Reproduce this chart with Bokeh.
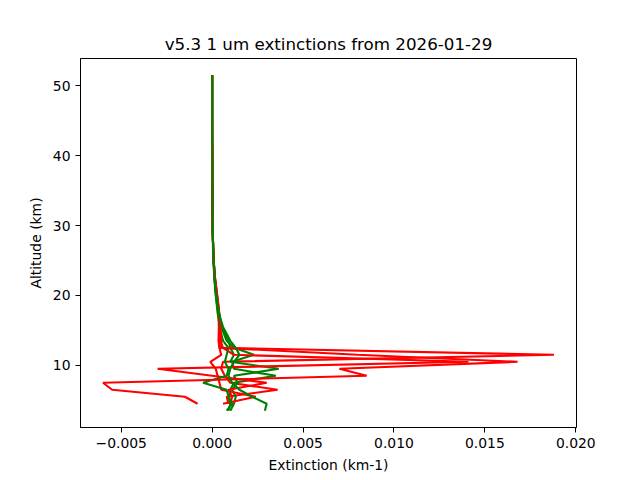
from bokeh.plotting import figure
from bokeh.models import FixedTicker, CustomJSTickFormatter, Range1d, ColumnDataSource
from bokeh.embed import file_html
from bokeh.resources import INLINE

# Altitude grid (km)
alt_green = [3.5, 4.5, 5.5, 6.5, 7.5, 8.5, 9.5, 10.5, 11.5, 12.5,
             13.5, 14.5, 15.5, 16.5, 17.5, 18.5, 19.5, 20.5, 21.5, 22.5,
             23.5, 24.5, 25.5, 26.5, 27.5, 28.5, 29.5, 30.5, 31.5, 32.5,
             33.5, 34.5, 35.5, 36.5, 37.5, 38.5, 39.5, 40.5, 41.5, 42.5,
             43.5, 44.5, 45.5, 46.5, 47.5, 48.5, 49.5, 50.5, 51.5]
alt_red = alt_green[1:]

# Red profiles (4.5 .. 51.5 km), extinction km-1
red_1 = [0.0009, 0.0008, 0.0036, 0.0010, 0.0007, 0.0005, 0.0006, 0.0188, 0.0004,
         0.0004, 0.0004, 0.0004, 0.00039, 0.00037, 0.00033, 0.00029, 0.00024, 0.0002, 0.00016,
         0.00013, 0.0001, 0.00008, 0.00006, 0.00005, 0.00004, 0.00004, 0.00003, 0.00003, 0.00003,
         0.00002, 0.00002, 0.00002, 0.00002, 0.00001, 0.00001, 0.00001, 0.00001, 0.00001, 0.00001,
         0.00001, 0.0, 0.0, 0.0, 0.0, 0.0, 0.0, 0.0, 0.0]
red_2 = [0.0006, 0.0024, 0.0005, 0.0004, 0.0003, 0.0002, -0.0001, 0.0005, 0.0004,
         0.00035, 0.00036, 0.00037, 0.00036, 0.00034, 0.0003, 0.00026, 0.00022, 0.00018, 0.00014,
         0.00011, 0.00009, 0.00007, 0.00005, 0.00004, 0.00003, 0.00003, 0.00003, 0.00002, 0.00002,
         0.00002, 0.00002, 0.00001, 0.00001, 0.00001, 0.00001, 0.00001, 0.00001, 0.0, 0.0,
         0.0, 0.0, 0.0, 0.0, 0.0, 0.0, 0.0, 0.0, 0.0]
red_3 = [0.0010, 0.0011, 0.0009, 0.0030, 0.0000, -0.0030, 0.0141, 0.0012, 0.0006,
         0.00045, 0.00044, 0.00043, 0.00041, 0.00038, 0.00034, 0.0003, 0.00025, 0.0002, 0.00015,
         0.00012, 0.00009, 0.00007, 0.00006, 0.00005, 0.00004, 0.00003, 0.00003, 0.00003, 0.00002,
         0.00002, 0.00002, 0.00002, 0.00001, 0.00001, 0.00001, 0.00001, 0.00001, 0.00001, 0.0,
         0.0, 0.0, 0.0, 0.0, 0.0, 0.0, 0.0, 0.0, 0.0]
red_4 = [-0.0008, -0.0015, -0.0055, -0.0060, 0.0085, 0.0070, 0.0168, 0.0080, 0.0005,
         0.0005, 0.00048, 0.00045, 0.00042, 0.00039, 0.00035, 0.0003, 0.00026, 0.00021, 0.00016,
         0.00012, 0.0001, 0.00008, 0.00006, 0.00005, 0.00004, 0.00004, 0.00003, 0.00003, 0.00002,
         0.00002, 0.00002, 0.00001, 0.00001, 0.00001, 0.00001, 0.00001, 0.00001, 0.00001, 0.0,
         0.0, 0.0, 0.0, 0.0, 0.0, 0.0, 0.0, 0.0, 0.0]

# Green profiles (3.5 .. 51.5 km)
green_1 = [0.0010, 0.0012, 0.0013, 0.0011, 0.0014, 0.0012, 0.00366, 0.0010, 0.0012, 0.0010,
           0.0009, 0.0007, 0.00055, 0.00045, 0.00036, 0.0003, 0.00025, 0.0002, 0.00017, 0.00014,
           0.00012, 0.0001, 0.00008, 0.00006, 0.00005, 0.00004, 0.00003, 0.00003, 0.00002, 0.00002,
           0.00002, 0.00001, 0.00001, 0.00001, 0.00001, 0.00001, 0.0, 0.0, 0.0, 0.0,
           0.0, 0.0, 0.0, 0.0, 0.0, 0.0, 0.0, 0.0, 0.0]
green_2 = [0.0009, 0.0010, 0.0009, 0.0010, 0.0012, 0.0035, 0.0012, 0.0011, 0.0023, 0.0012,
           0.0008, 0.00065, 0.0005, 0.00042, 0.00034, 0.00028, 0.00023, 0.00019, 0.00016, 0.00013,
           0.00011, 0.00009, 0.00007, 0.00006, 0.00005, 0.00004, 0.00003, 0.00003, 0.00002, 0.00002,
           0.00002, 0.00001, 0.00001, 0.00001, 0.00001, 0.00001, 0.00001, 0.0, 0.0, 0.0,
           0.0, 0.0, 0.0, 0.0, 0.0, 0.0, 0.0, 0.0, 0.0]
green_3 = [0.0008, 0.0011, 0.0009, 0.0008, -0.0005, 0.0008, 0.0009, 0.0007, 0.0008, 0.0009,
           0.0006, 0.0005, 0.00042, 0.00036, 0.0003, 0.00026, 0.00022, 0.00018, 0.00015, 0.00012,
           0.0001, 0.00008, 0.00007, 0.00006, 0.00005, 0.00004, 0.00003, 0.00003, 0.00002, 0.00002,
           0.00002, 0.00001, 0.00001, 0.00001, 0.00001, 0.00001, 0.0, 0.0, 0.0, 0.0,
           0.0, 0.0, 0.0, 0.0, 0.0, 0.0, 0.0, 0.0, 0.0]
green_4 = [0.0029, 0.0030, 0.0022, 0.0015, 0.0011, 0.0009, 0.0010, 0.0012, 0.0015, 0.0013,
           0.0010, 0.0008, 0.0006, 0.00048, 0.00038, 0.00031, 0.00026, 0.00021, 0.00017, 0.00014,
           0.00012, 0.0001, 0.00008, 0.00006, 0.00005, 0.00004, 0.00003, 0.00003, 0.00002, 0.00002,
           0.00002, 0.00001, 0.00001, 0.00001, 0.00001, 0.00001, 0.00001, 0.0, 0.0, 0.0,
           0.0, 0.0, 0.0, 0.0, 0.0, 0.0, 0.0, 0.0, 0.0]

x_ticks = [-0.005, 0.0, 0.005, 0.010, 0.015, 0.020]
y_ticks = [10, 20, 30, 40, 50]

FONT = "DejaVu Sans"

p = figure(width=640, height=480, output_backend="svg", toolbar_location=None,
           x_range=Range1d(-0.00724, 0.02004), y_range=Range1d(1.1, 53.9),
           min_border_left=80, min_border_right=64, min_border_top=58, min_border_bottom=53,
           title="v5.3 1 um extinctions from 2026-01-29")
p.grid.visible = False
p.outline_line_color = "black"
p.outline_line_alpha = 1.0
p.outline_line_width = 1
p.background_fill_color = "white"
p.border_fill_color = "white"

p.title.text_font = FONT
p.title.text_font_size = "16.7px"
p.title.text_font_style = "normal"
p.title.align = "center"
p.title.text_color = "black"

for ax in (p.xaxis[0], p.yaxis[0]):
    ax.axis_line_color = "black"
    ax.major_tick_line_color = "black"
    ax.major_tick_out = 5
    ax.major_tick_in = 0
    ax.minor_tick_line_color = None
    ax.major_label_text_font = FONT
    ax.major_label_text_font_size = "13.9px"
    ax.major_label_text_color = "black"
    ax.axis_label_text_font = FONT
    ax.axis_label_text_font_size = "13.9px"
    ax.axis_label_text_font_style = "normal"
    ax.axis_label_text_color = "black"
    ax.major_label_standoff = 5
    ax.axis_label_standoff = 6

p.xaxis.ticker = FixedTicker(ticks=x_ticks)
p.yaxis.ticker = FixedTicker(ticks=y_ticks)
p.xaxis.formatter = CustomJSTickFormatter(code='return (tick < 0 ? "\\u2212" : "") + Math.abs(tick).toFixed(3);')
p.yaxis.formatter = CustomJSTickFormatter(code='return tick.toFixed(0);')
p.xaxis.axis_label = "Extinction (km-1)"
p.yaxis.axis_label = "Altitude (km)"

reds = [red_1, red_2, red_3, red_4]
greens = [green_1, green_2, green_3, green_4]
for r, g in zip(reds, greens):
    p.line(x="x", y="y", source=ColumnDataSource(dict(x=r, y=alt_red)),
           line_color="#ff0000", line_width=2.1)
    p.line(x="x", y="y", source=ColumnDataSource(dict(x=g, y=alt_green)),
           line_color="#008000", line_width=2.1)

open("out.html", "w").write(file_html(p, INLINE))
